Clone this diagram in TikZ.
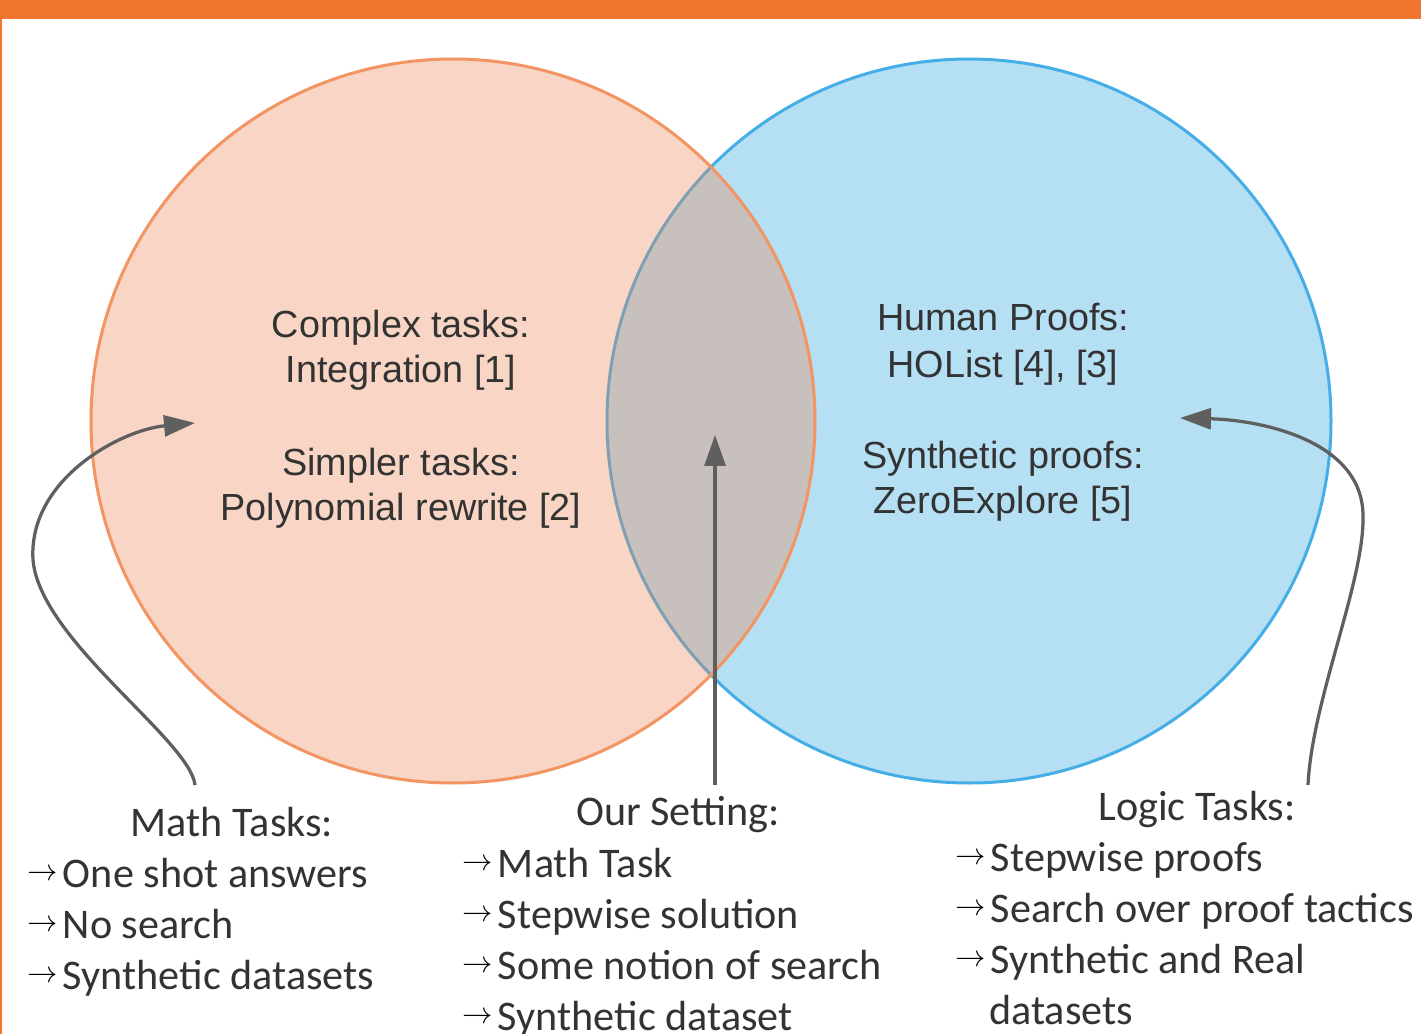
\documentclass[tikz,border=0pt]{standalone}
\usepackage{fontspec}
\setmainfont{Liberation Sans}
\newfontfamily\calibfont{Carlito}
\usetikzlibrary{arrows.meta}

\definecolor{barorange}{HTML}{F07630}
\definecolor{mathline}{HTML}{F39563}
\definecolor{mathfill}{HTML}{EC8756}
\definecolor{logicline}{HTML}{45AEE6}
\definecolor{logicfill}{HTML}{B5DFF3}
\definecolor{pointer}{HTML}{5F5F5F}
\definecolor{inktext}{HTML}{333333}

\newcommand{\listarrow}{\raisebox{3.5pt}{\fontsize{16}{16}\selectfont\color{black}$\rightarrow$}\kern3pt}

\tikzset{
  circletext/.style={anchor=base, inner sep=0pt, text=inktext, font=\fontsize{21.5}{26}\selectfont},
  headtext/.style={anchor=base, inner sep=0pt, text=inktext, font=\calibfont\fontsize{24}{29}\selectfont},
  itemtext/.style={anchor=base west, inner sep=0pt, text=inktext, font=\calibfont\fontsize{24}{29}\selectfont},
  pointerline/.style={draw=pointer, line width=0.065cm, -{Triangle[length=0.62cm, width=0.42cm]}}
}

\begin{document}
\begin{tikzpicture}[x=0.02cm, y=-0.02cm]
			%%%%% FRAME %%%%%
			\useasboundingbox (0, 0) rectangle (1421, 1034);
			\fill[white] (0, 0) rectangle (1421, 1034);
			\fill[barorange] (0, 0) rectangle (1421, 19);
			\fill[barorange] (0, 0) rectangle (2.5, 1034);
			
			%%%%% CIRCLES %%%%%
			\draw[line width=0.06cm, draw=logicline, fill=logicfill] (969, 421) circle (362);
			\fill[mathfill, fill opacity=0.35] (453, 421) circle (362);
			\draw[line width=0.06cm, draw=mathline] (453, 421) circle (362);
			
			%%%%% TEXT IN CIRCLES %%%%%
			\node[circletext] (complex) at (401, 337) {Complex tasks:};
			\node[circletext] (integration) at (401, 382) {Integration [1]};
			\node[circletext] (simpler) at (401, 475) {Simpler tasks:};
			\node[circletext] (polynomial) at (401, 520) {Polynomial rewrite [2]};
			
			\node[circletext] (human) at (1003, 330) {Human Proofs:};
			\node[circletext] (holist) at (1003, 377) {HOList [4], [3]};
			\node[circletext] (synthproofs) at (1003, 468) {Synthetic proofs:};
			\node[circletext] (zeroexplore) at (1003, 513) {ZeroExplore [5]};
			
			%%%%% MATH TASKS %%%%%
			\node[headtext] (mathhead) at (232, 836) {Math Tasks:};
			\node[itemtext] (mathone) at (27, 887) {\listarrow One shot answers};
			\node[itemtext] (mathtwo) at (27, 938) {\listarrow No search};
			\node[itemtext] (maththree) at (27, 989) {\listarrow Synthetic datasets};
			
			%%%%% OUR SETTING %%%%%
			\node[headtext] (ourhead) at (678, 825) {Our Setting:};
			\node[itemtext] (ourone) at (462, 877) {\listarrow Math Task};
			\node[itemtext] (ourtwo) at (462, 928) {\listarrow Stepwise solution};
			\node[itemtext] (ourthree) at (462, 979) {\listarrow Some notion of search};
			\node[itemtext] (ourfour) at (462, 1030) {\listarrow Synthetic dataset};
			
			%%%%% LOGIC TASKS %%%%%
			\node[headtext] (logichead) at (1197, 820) {Logic Tasks:};
			\node[itemtext] (logicone) at (955, 871) {\listarrow Stepwise proofs};
			\node[itemtext] (logictwo) at (955, 922) {\listarrow Search over proof tactics};
			\node[itemtext] (logicthree) at (955, 973) {\listarrow Synthetic and Real};
			\node[itemtext, xshift=0.68cm] (logicfour) at (955, 1024) {datasets};
			
			%%%%% POINTERS %%%%%
			\coordinate (mathfoot) at (195, 785);
			\coordinate (mathtip) at (195, 423);
			\coordinate (ourfoot) at (715, 785);
			\coordinate (ourtip) at (715, 435);
			\coordinate (logicfoot) at (1308, 785);
			\coordinate (logictip) at (1180, 418);
			
			\draw[pointerline] (mathfoot) .. controls (190, 740) and (40, 640) .. (33, 560)
				.. controls (28, 480) and (120, 430) .. (mathtip);
			\draw[pointerline] (ourfoot) -- (ourtip);
			\draw[pointerline] (logicfoot) .. controls (1312, 700) and (1365, 580) .. (1363, 515)
				.. controls (1362, 440) and (1260, 420) .. (logictip);
\end{tikzpicture}
\end{document}
